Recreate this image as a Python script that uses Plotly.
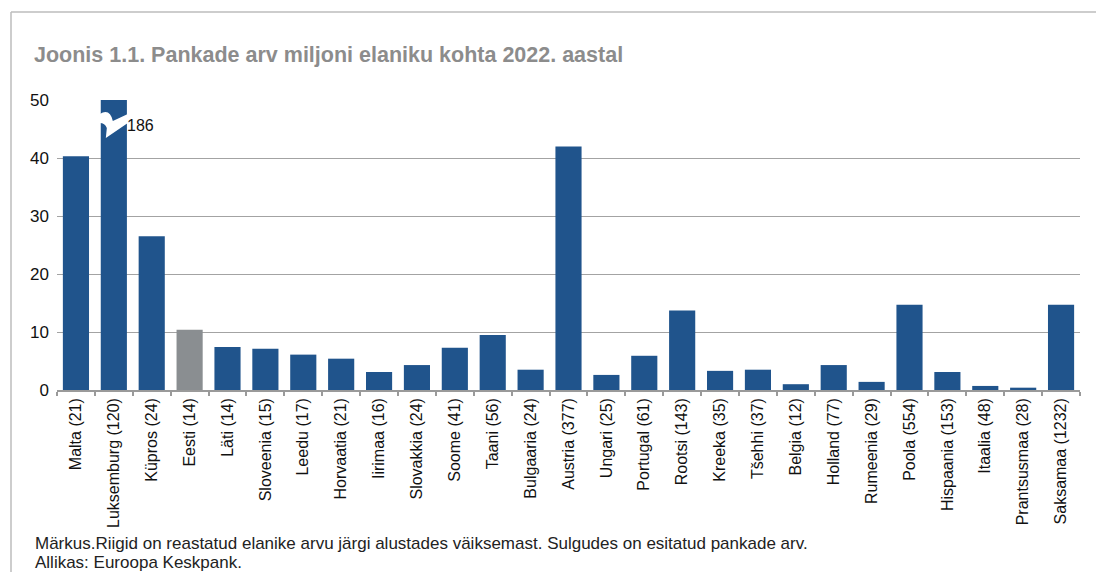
import plotly.graph_objects as go

# Banks per million inhabitants, 2022 (number of banks in parentheses)
countries = ["Malta (21)", "Luksemburg (120)", "Küpros (24)", "Eesti (14)", "Läti (14)",
             "Sloveenia (15)", "Leedu (17)", "Horvaatia (21)", "Iirimaa (16)", "Slovakkia (24)",
             "Soome (41)", "Taani (56)", "Bulgaaria (24)", "Austria (377)", "Ungari (25)",
             "Portugal (61)", "Rootsi (143)", "Kreeka (35)", "Tšehhi (37)", "Belgia (12)",
             "Holland (77)", "Rumeenia (29)", "Poola (554)", "Hispaania (153)", "Itaalia (48)",
             "Prantsusmaa (28)", "Saksamaa (1232)"]
banks_per_million = [40.3, 186, 26.5, 10.4, 7.4, 7.1, 6.1, 5.4, 3.1, 4.3,
                     7.3, 9.5, 3.5, 42.0, 2.6, 5.9, 13.7, 3.3, 3.5, 1.0,
                     4.3, 1.4, 14.7, 3.1, 0.7, 0.4, 14.7]
highlight = "Eesti (14)"
y_ticks = [0, 10, 20, 30, 40, 50]
y_max = 50

BLUE = "#20548c"
GREY = "#8a8e91"
FONT = "Liberation Sans, Arial, Helvetica, sans-serif"

W, H = 1096, 572
M_L, M_R, M_T, M_B = 57, 16, 100, 182
plot_w = W - M_L - M_R
plot_h = H - M_T - M_B
n = len(countries)
x_idx = list(range(n))
px_per_cat = plot_w / n
px_per_unit = plot_h / y_max


def px_x(px):
    """Absolute pixel x -> paper x."""
    return (px - M_L) / plot_w


def px_y(py):
    """Absolute pixel y -> paper y."""
    return (H - M_B - py) / plot_h


colors = [GREY if c == highlight else BLUE for c in countries]

fig = go.Figure()
fig.add_trace(go.Bar(
    x=x_idx, y=banks_per_million, marker=dict(color=colors, line=dict(width=0)),
    hoverinfo="x+y", showlegend=False,
))

fig.update_layout(
    width=W, height=H,
    margin=dict(l=M_L, r=M_R, t=M_T, b=M_B, autoexpand=False),
    paper_bgcolor="white", plot_bgcolor="white",
    bargap=0.31,
    font=dict(family=FONT, color="#111"),
    xaxis=dict(
        range=[-0.5, n - 0.5], tickmode="array", tickvals=x_idx, ticktext=countries,
        tickangle=-90, ticks="", tickfont=dict(size=16, color="#111"),
        showline=True, linecolor="#9a9a9a", linewidth=1.5, showgrid=False, zeroline=False,
        minor=dict(tickmode="array", tickvals=[k - 0.5 for k in range(n + 1)],
                   ticks="outside", ticklen=4, tickcolor="#9a9a9a", tickwidth=1.5,
                   showgrid=False),
        fixedrange=True,
    ),
    yaxis=dict(
        range=[0, y_max], tickmode="array", tickvals=y_ticks,
        ticks="", ticklabelstandoff=7, tickfont=dict(size=17, color="#111"),
        showgrid=True, gridcolor="#a3a3a3", gridwidth=1.3,
        showline=False, zeroline=False, fixedrange=True,
    ),
)

# Frame around the figure (left and top edges)
fig.add_shape(type="line", xref="paper", yref="paper",
              x0=px_x(11), x1=px_x(11), y0=px_y(600), y1=px_y(12),
              line=dict(color="#bdbdbd", width=1.5))
fig.add_shape(type="line", xref="paper", yref="paper",
              x0=px_x(11), x1=px_x(1110), y0=px_y(12), y1=px_y(12),
              line=dict(color="#bdbdbd", width=1.5))

# Title and notes
fig.add_annotation(text="<b>Joonis 1.1. Pankade arv miljoni elaniku kohta 2022. aastal</b>",
                   xref="paper", yref="paper", x=px_x(32), y=px_y(55),
                   xanchor="left", yanchor="middle", showarrow=False,
                   font=dict(family=FONT, size=21.5, color="#8c8c8c"))
fig.add_annotation(text="Märkus.Riigid on reastatud elanike arvu järgi alustades väiksemast. "
                        "Sulgudes on esitatud pankade arv.",
                   xref="paper", yref="paper", x=px_x(33), y=px_y(543),
                   xanchor="left", yanchor="middle", showarrow=False,
                   font=dict(family=FONT, size=17, color="#222"))
fig.add_annotation(text="Allikas: Euroopa Keskpank.",
                   xref="paper", yref="paper", x=px_x(33), y=px_y(562),
                   xanchor="left", yanchor="middle", showarrow=False,
                   font=dict(family=FONT, size=17, color="#222"))

# Axis-break marker on the bar that runs off the scale
over = [i for i, v in enumerate(banks_per_million) if v > y_max]
for i in over:
    def pt(dx_px, dy_px):
        # dx_px: pixel offset from bar centre, dy_px: pixel offset below the top of the axis
        return f"{i + dx_px / px_per_cat:.4f},{y_max - dy_px / px_per_unit:.4f}"
    path = (f"M {pt(-14, 14)} Q {pt(-4, 8)} {pt(-1, 21)} L {pt(14, 14)} "
            f"L {pt(14, 23)} L {pt(-8, 38)} L {pt(-7, 28)} Q {pt(-9, 23)} {pt(-14, 23)} Z")
    fig.add_shape(type="path", path=path, xref="x", yref="y",
                  fillcolor="white", line=dict(width=0), layer="above")
    fig.add_annotation(x=i, y=y_max - 25 / px_per_unit, xref="x", yref="y",
                       text=f"{banks_per_million[i]:g}", showarrow=False,
                       xanchor="left", xshift=11, yanchor="middle",
                       font=dict(family=FONT, size=16, color="#111"))

fig.write_html("out.html", config={"displayModeBar": False})
